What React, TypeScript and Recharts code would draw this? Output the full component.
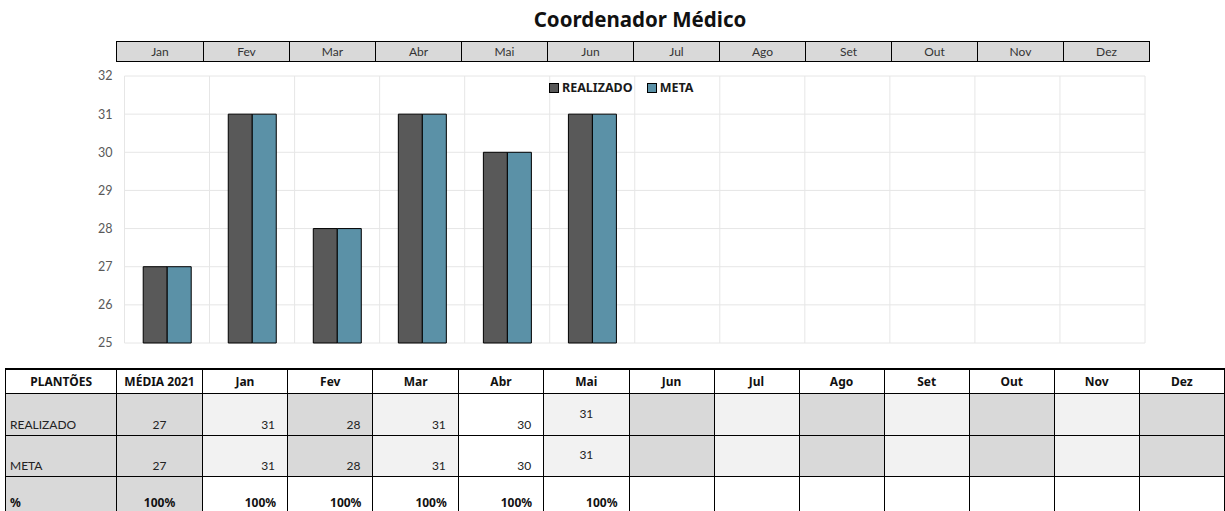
import { BarChart, Bar, XAxis, YAxis, CartesianGrid } from 'recharts';

const months = ['Jan', 'Fev', 'Mar', 'Abr', 'Mai', 'Jun', 'Jul', 'Ago', 'Set', 'Out', 'Nov', 'Dez'];
const realizado = [27, 31, 28, 31, 30, 31];
const meta = [27, 31, 28, 31, 30, 31];
const yTicks = [25, 26, 27, 28, 29, 30, 31, 32];

const tableTitle = 'PLANTÕES';
const tableColumns = ['MÉDIA 2021', 'Jan', 'Fev', 'Mar', 'Abr', 'Mai', 'Jun', 'Jul', 'Ago', 'Set', 'Out', 'Nov', 'Dez'];
const rowLabels = ['REALIZADO', 'META', '%'];

const GRAY = '#d9d9d9';
const LIGHT = '#f2f2f2';
const WHITE = '#ffffff';
// fill of each table column (after the PLANTÕES column)
const columnFill = [GRAY, LIGHT, GRAY, LIGHT, WHITE, LIGHT, GRAY, LIGHT, GRAY, LIGHT, GRAY, LIGHT, GRAY];

const chartData = months.map((m, i) => ({ month: m, realizado: realizado[i], meta: meta[i] }));

const SANS = 'Lato, "Open Sans", sans-serif';
const HEAD = '"Noto Sans", "DejaVu Sans", sans-serif';

const legendItems = [
    { name: 'REALIZADO', color: '#595959' },
    { name: 'META', color: '#5b91a7' },
];

const LegendBox = () => (
    <div style={{ display: 'flex', alignItems: 'center', fontFamily: HEAD, fontWeight: 700, fontSize: 12.5, color: '#1a1a1a' }}>
        {legendItems.map(it => (
            <div key={it.name} style={{ display: 'flex', alignItems: 'center', marginRight: 14 }}>
                <span style={{ width: 8, height: 8, background: it.color, border: '1px solid #000', marginRight: 3 }} />
                {it.name}
            </div>
        ))}
    </div>
);

const cell = (extra: React.CSSProperties): React.CSSProperties => ({
    border: '1px solid #000',
    padding: 0,
    fontFamily: SANS,
    fontSize: 12,
    color: '#222',
    ...extra,
});

export default function App() {
    const pct = realizado.map((r, i) => `${Math.round((r / meta[i]) * 100)}%`);

    return (
        <div style={{ position: 'absolute', top: 0, left: 0, width: 1225, height: 511, overflow: 'hidden', background: '#fff' }}>
            <div style={{ position: 'absolute', top: 5, left: 440, width: 400, textAlign: 'center', fontFamily: HEAD, fontWeight: 700, fontSize: 20.5, color: '#111' }}>
                Coordenador Médico
            </div>

            <div style={{ position: 'absolute', top: 41, left: 116, display: 'flex', border: '1.5px solid #000', background: GRAY }}>
                {months.map((m, i) => (
                    <div key={m} style={{ width: 86, height: 19, boxSizing: 'border-box', borderLeft: i ? '1px solid #000' : 'none', textAlign: 'center', lineHeight: '19px', fontFamily: SANS, fontSize: 12, color: '#333' }}>
                        {m}
                    </div>
                ))}
            </div>

            <div style={{ position: 'absolute', top: 0, left: 0 }}>
                <BarChart width={1225} height={360} data={chartData} margin={{ top: 76, right: 80, bottom: 17, left: 0 }} barCategoryGap="22%" barGap={0}>
                    <CartesianGrid
                        stroke="#e6e6e6"
                        verticalCoordinatesGenerator={({ offset }: any) =>
                            Array.from({ length: months.length + 1 }, (_, i) => offset.left + (i * offset.width) / months.length)
                        }
                    />
                    <XAxis dataKey="month" hide />
                    <YAxis
                        domain={[25, 32]}
                        ticks={yTicks}
                        width={124.5}
                        axisLine={false}
                        tickLine={false}
                        tickSize={0}
                        tickMargin={12}
                        tick={{ fill: '#595959', fontSize: 12.5, fontFamily: SANS }}
                    />
                    <Bar dataKey="realizado" name="REALIZADO" fill="#595959" stroke="#000" strokeWidth={1} isAnimationActive={false} />
                    <Bar dataKey="meta" name="META" fill="#5b91a7" stroke="#000" strokeWidth={1} isAnimationActive={false} />
                </BarChart>
            </div>

            <div style={{ position: 'absolute', top: 79, left: 549 }}>
                <LegendBox />
            </div>

            <table style={{ position: 'absolute', top: 368, left: 5, borderCollapse: 'collapse', tableLayout: 'fixed', borderTop: '2px solid #000' }}>
                <colgroup>
                    <col style={{ width: 112 }} />
                    {tableColumns.map(c => <col key={c} style={{ width: 86 }} />)}
                </colgroup>
                <tbody>
                    <tr style={{ height: 24 }}>
                        <td style={cell({ textAlign: 'center', fontFamily: HEAD, fontWeight: 700, fontSize: 12, color: '#111' })}>{tableTitle}</td>
                        {tableColumns.map(c => (
                            <td key={c} style={cell({ textAlign: 'center', fontFamily: HEAD, fontWeight: 700, fontSize: 12, color: '#111' })}>{c}</td>
                        ))}
                    </tr>
                    {[realizado, meta].map((vals, r) => (
                        <tr key={rowLabels[r]} style={{ height: r === 0 ? 42 : 41 }}>
                            <td style={cell({ background: GRAY, verticalAlign: 'bottom', paddingLeft: 4, paddingBottom: 3 })}>{rowLabels[r]}</td>
                            {tableColumns.map((c, i) => {
                                const v = vals[i];
                                const align = i === 0 || i === 5 ? 'center' : 'right';
                                return (
                                    <td
                                        key={c}
                                        style={cell({
                                            background: columnFill[i],
                                            textAlign: align,
                                            verticalAlign: i === 5 ? 'middle' : 'bottom',
                                            paddingRight: align === 'right' ? 12 : 0,
                                            paddingBottom: i === 5 ? 2 : 3,
                                        })}
                                    >
                                        {v ?? ''}
                                    </td>
                                );
                            })}
                        </tr>
                    ))}
                    <tr style={{ height: 44 }}>
                        <td style={cell({ background: GRAY, verticalAlign: 'top', paddingLeft: 4, paddingTop: 17, fontFamily: HEAD, fontWeight: 700, color: '#111' })}>{rowLabels[2]}</td>
                        {tableColumns.map((c, i) => (
                            <td
                                key={c}
                                style={cell({
                                    background: i === 0 ? GRAY : WHITE,
                                    textAlign: i === 0 ? 'center' : 'right',
                                    verticalAlign: 'top',
                                    paddingRight: i === 0 ? 0 : 11,
                                    paddingTop: 17,
                                    fontFamily: HEAD,
                                    fontWeight: 700,
                                    color: '#111',
                                })}
                            >
                                {pct[i] ?? ''}
                            </td>
                        ))}
                    </tr>
                </tbody>
            </table>
        </div>
    );
}
